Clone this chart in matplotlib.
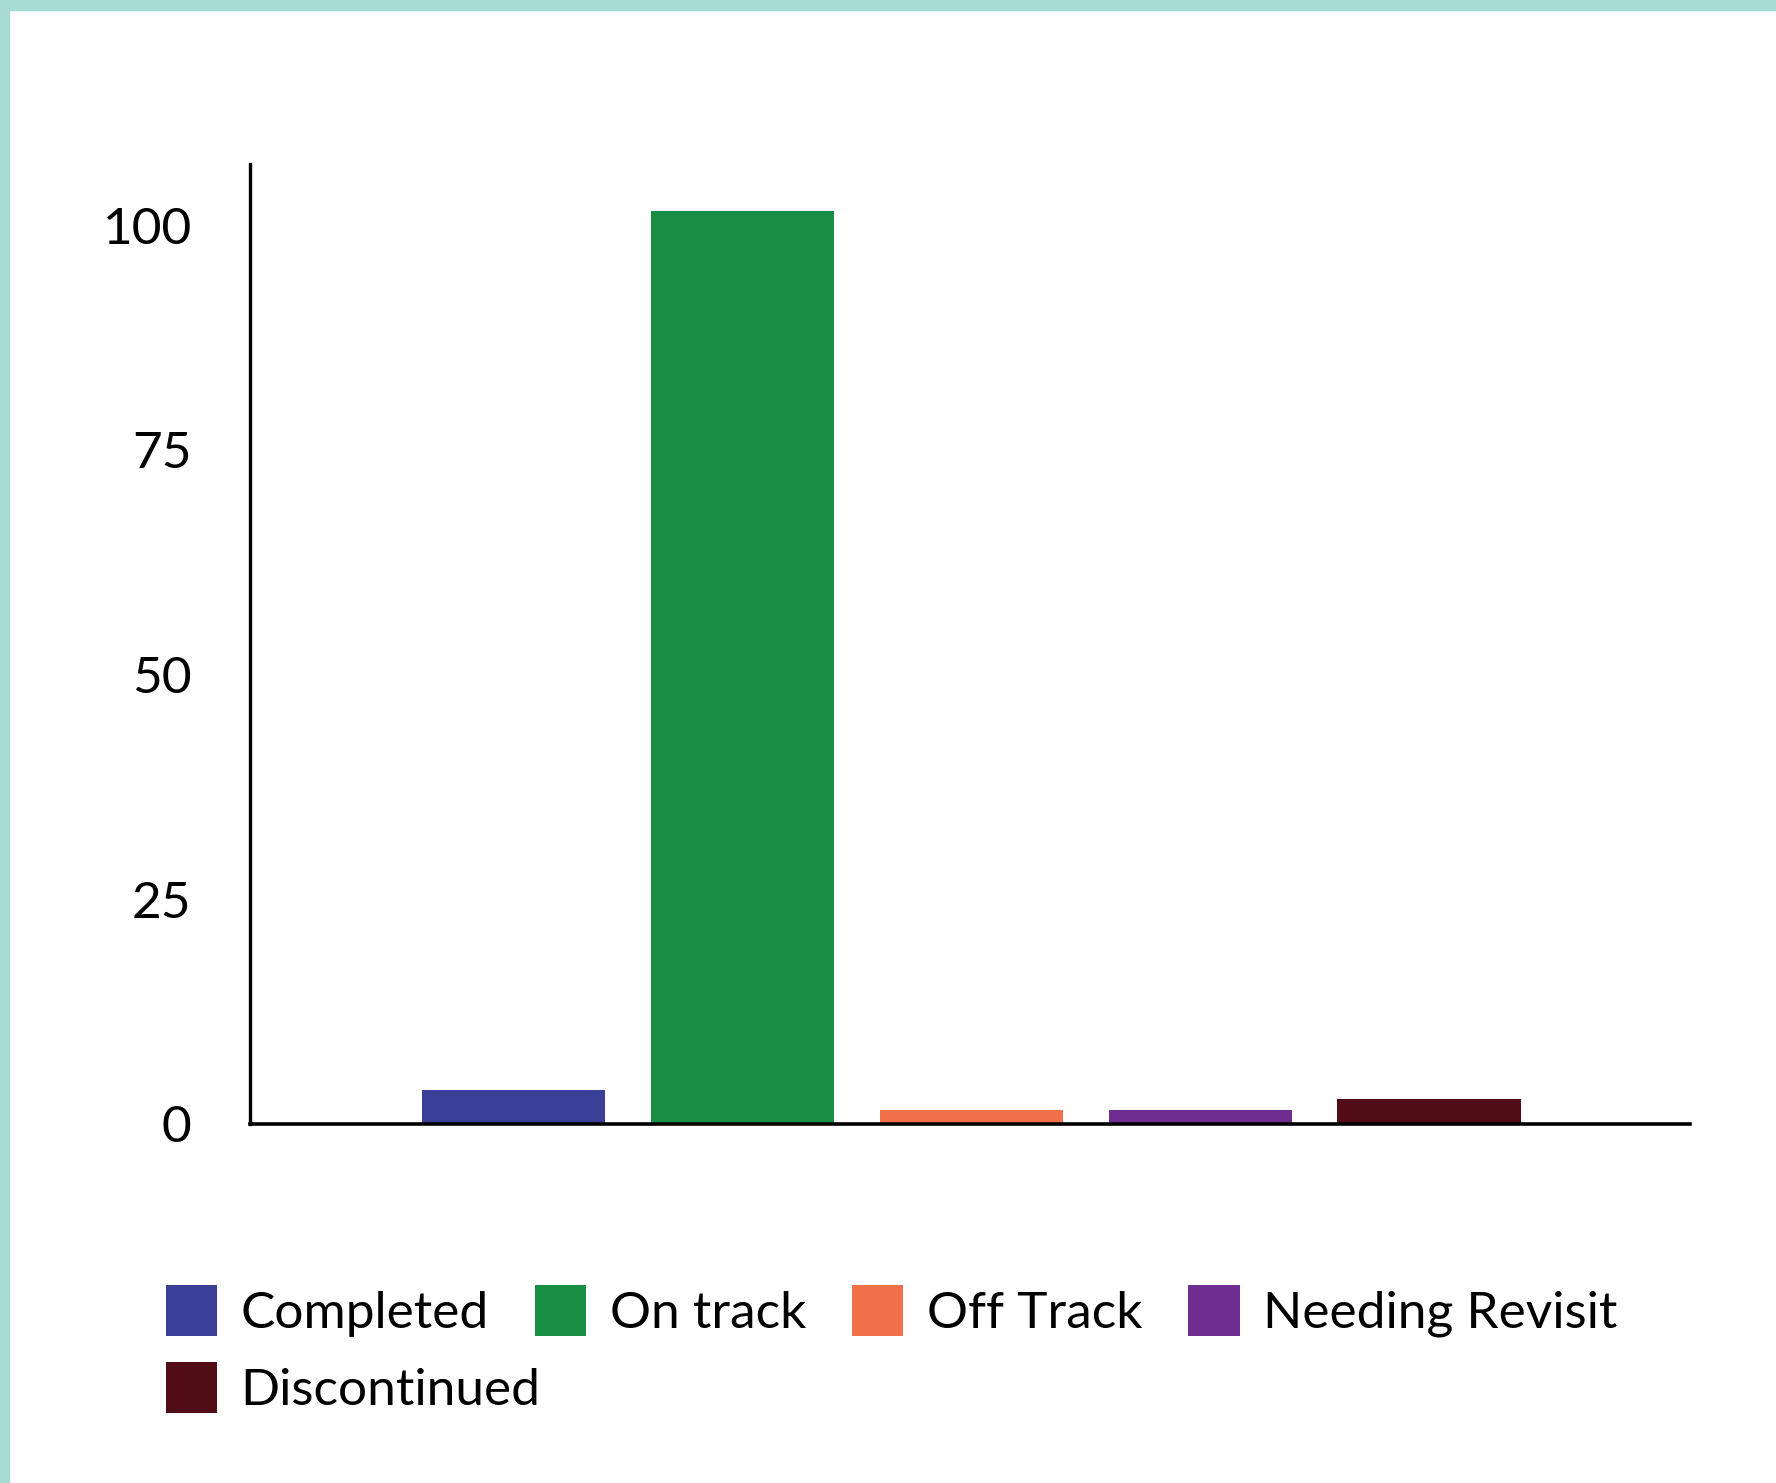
import matplotlib.pyplot as plt
from matplotlib.patches import Rectangle

categories = ["Completed", "On track", "Off Track", "Needing Revisit", "Discontinued"]
counts = [3.8, 101.6, 1.5, 1.5, 2.8]
colors = ["#3a4098", "#178e44", "#f0704a", "#6e2d8f", "#520c16"]
y_ticks = [0, 25, 50, 75, 100]

plt.rcParams['font.family'] = ['Lato', 'DejaVu Sans']

fig = plt.figure(figsize=(17.76, 14.83), dpi=100)
ax = fig.add_axes([0.1408, 0.2421, 0.8108, 0.6473])

x = list(range(len(categories)))
bars = ax.bar(x, counts, width=0.8, color=colors)

ax.set_xlim(-1.15, 5.14)
ax.set_ylim(0, 106.8)
ax.set_yticks(y_ticks)
ax.set_yticklabels([str(t) for t in y_ticks])
ax.set_xticks([])
ax.tick_params(axis='y', length=0, pad=42, labelsize=37, labelcolor='black')

for side in ['top', 'right']:
    ax.spines[side].set_visible(False)
ax.spines['left'].set_linewidth(2.4)
ax.spines['bottom'].set_linewidth(2.6)

# legend: four entries on the first row, the last one below
common = dict(frameon=False, fontsize=37, handlelength=1.0, handleheight=1.15,
              handletextpad=0.45, borderpad=0, borderaxespad=0,
              bbox_transform=fig.transFigure)
leg1 = ax.legend(bars[:4], categories[:4], ncol=4, columnspacing=0.9,
                 loc='center left', bbox_to_anchor=(166 / 1776, 1 - 1311 / 1483),
                 **common)
ax.add_artist(leg1)
ax.legend([bars[4]], [categories[4]], loc='center left',
          bbox_to_anchor=(166 / 1776, 1 - 1388 / 1483), **common)

# teal frame along the top and left edge
teal = "#a6dbd3"
fig.patches.append(Rectangle((0, 1 - 10 / 1483), 1, 10 / 1483, transform=fig.transFigure,
                             color=teal, zorder=0))
fig.patches.append(Rectangle((0, 0), 9 / 1776, 1, transform=fig.transFigure,
                             color=teal, zorder=0))

fig.savefig("out.png", dpi=100)
